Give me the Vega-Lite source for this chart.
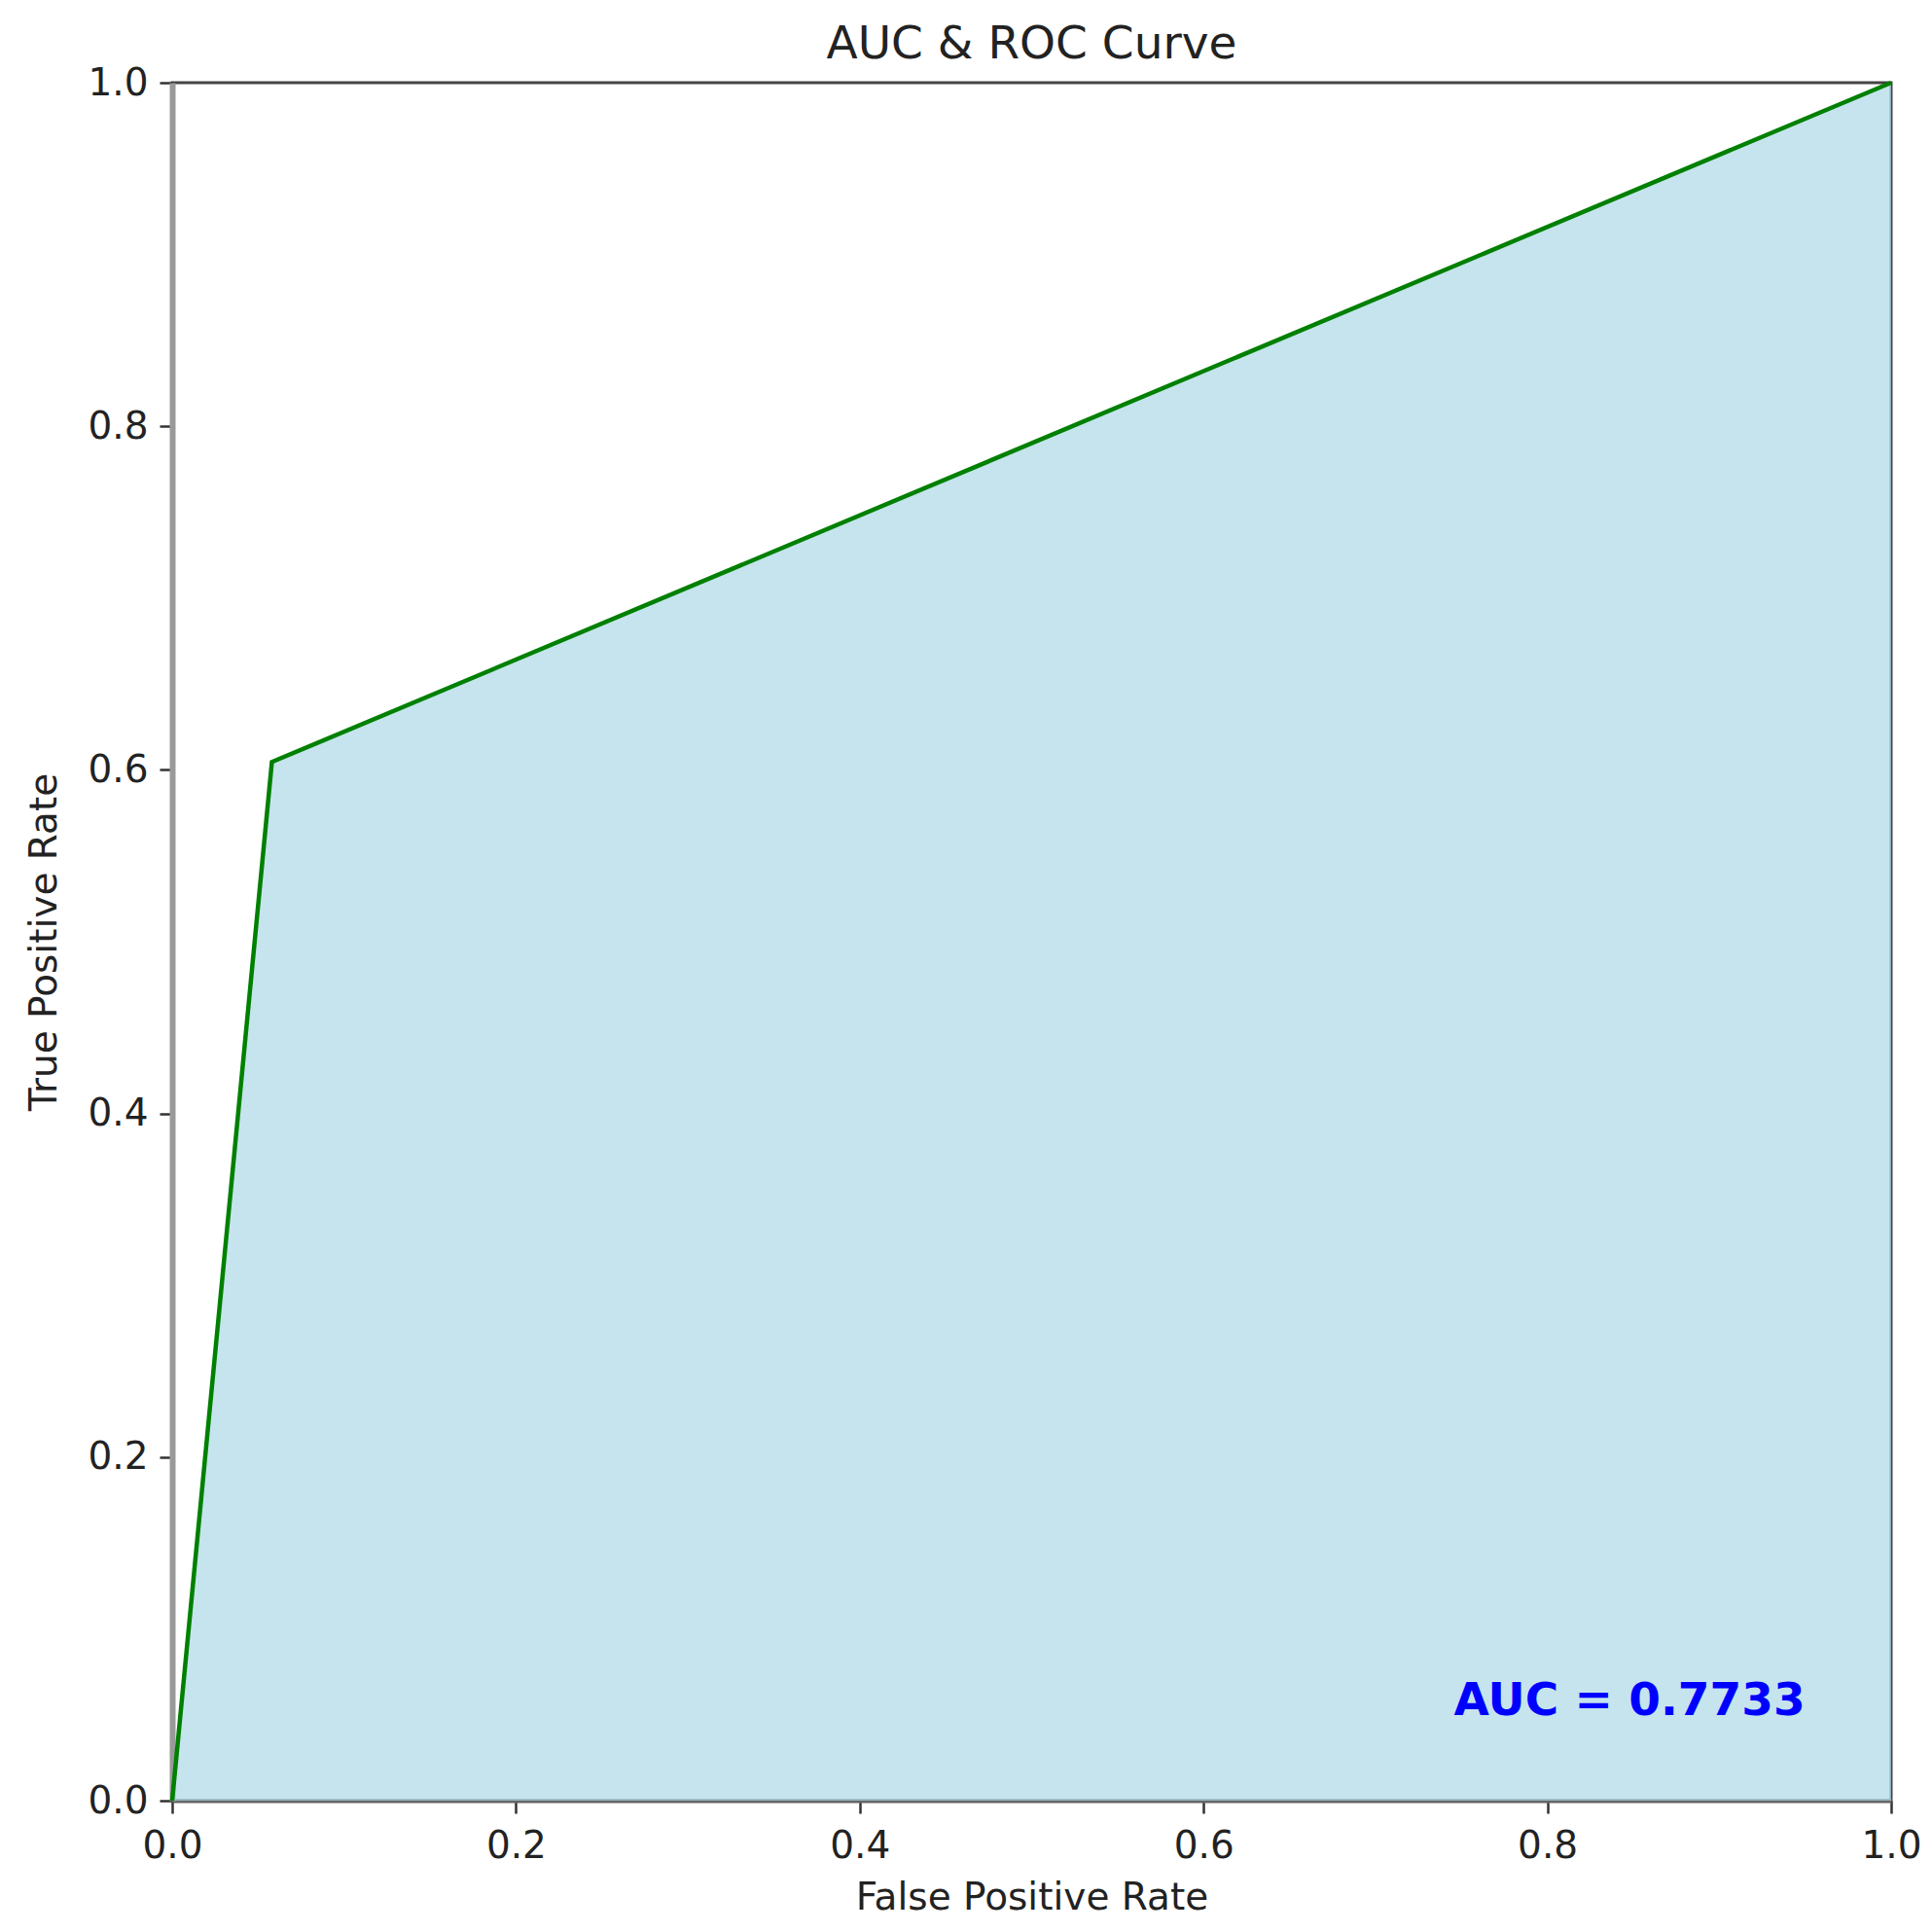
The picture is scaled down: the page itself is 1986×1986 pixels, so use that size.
{
  "$schema": "https://vega.github.io/schema/vega-lite/v6.json",
  "autosize": {"type": "none"},
  "padding": {"left": 177, "top": 85, "right": 42, "bottom": 135},
  "width": 1767,
  "height": 1766,
  "background": "white",
  "title": {"text": "AUC & ROC Curve", "font": "DejaVu Sans", "fontSize": 47, "fontWeight": "normal", "color": "#222", "offset": -4, "anchor": "middle"},
  "config": {
    "view": {"stroke": "#444", "strokeWidth": 3},
    "axis": {
      "labelFont": "DejaVu Sans", "titleFont": "DejaVu Sans",
      "labelFontSize": 39, "titleFontSize": 39, "titleFontWeight": "normal",
      "labelColor": "#222", "titleColor": "#222",
      "tickColor": "#333", "tickWidth": 2.5, "tickSize": 13,
      "grid": false, "zindex": 1
    }
  },
  "data": {"values": [
    {"fpr": 0.0, "tpr": 0.0},
    {"fpr": 0.058, "tpr": 0.6046},
    {"fpr": 1.0, "tpr": 1.0}
  ]},
  "layer": [
    {
      "mark": {"type": "area", "color": "#ADD8E6", "opacity": 0.7},
      "encoding": {
        "x": {"field": "fpr", "type": "quantitative", "scale": {"domain": [0, 1], "nice": false, "zero": false},
              "axis": {"title": "False Positive Rate", "values": [0, 0.2, 0.4, 0.6, 0.8, 1.0], "format": ".1f", "labelPadding": 14, "titlePadding": 14, "domainColor": "#666", "domainWidth": 4, "labelFlush": false}},
        "y": {"field": "tpr", "type": "quantitative", "scale": {"domain": [0, 1], "nice": false, "zero": false},
              "axis": {"title": "True Positive Rate", "values": [0, 0.2, 0.4, 0.6, 0.8, 1.0], "format": ".1f", "labelPadding": 12, "titlePadding": 24, "domainColor": "#999", "domainWidth": 6, "labelFlush": false}}
      }
    },
    {
      "mark": {"type": "line", "color": "#008000", "strokeWidth": 4.5},
      "encoding": {
        "x": {"field": "fpr", "type": "quantitative"},
        "y": {"field": "tpr", "type": "quantitative"}
      }
    },
    {
      "data": {"values": [{"x": 0.95, "y": 0.05, "label": "AUC = 0.7733"}]},
      "mark": {"type": "text", "font": "DejaVu Sans", "fontSize": 47, "fontWeight": "bold", "color": "#0000FF", "align": "right", "baseline": "alphabetic"},
      "encoding": {
        "x": {"field": "x", "type": "quantitative"},
        "y": {"field": "y", "type": "quantitative"},
        "text": {"field": "label"}
      }
    }
  ]
}
